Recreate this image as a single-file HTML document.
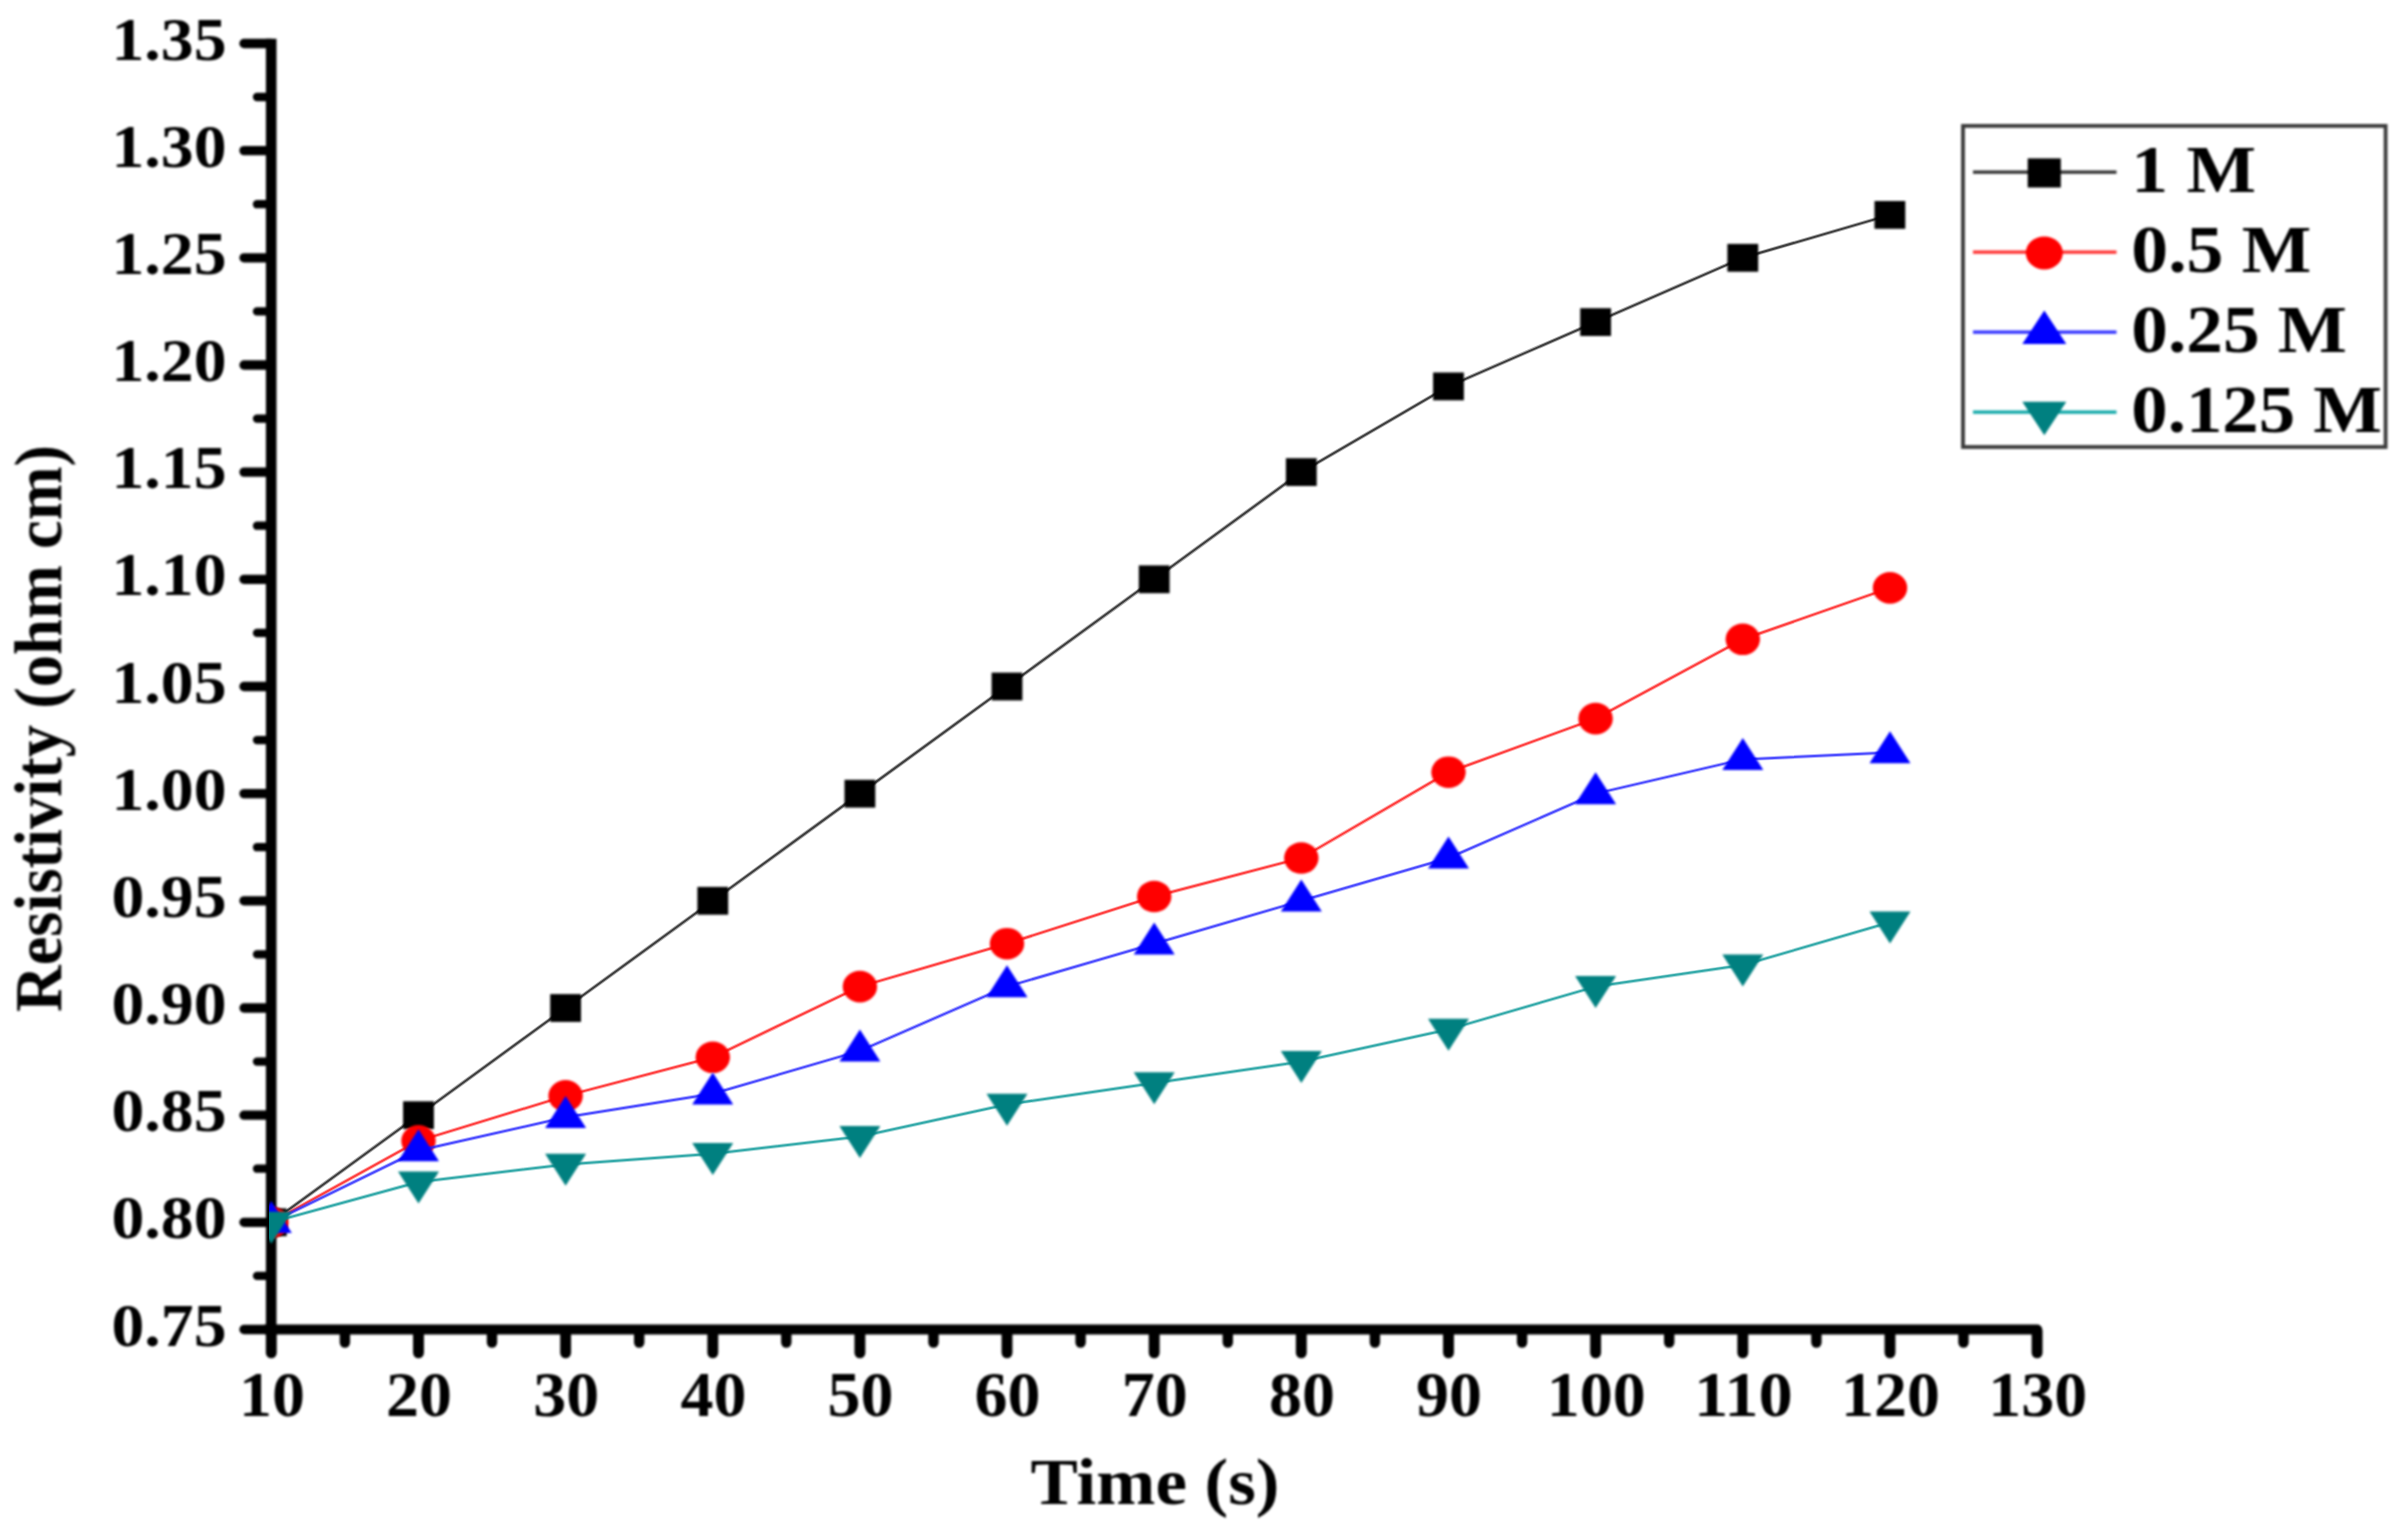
<!DOCTYPE html>
<html lang="en"><head><meta charset="utf-8"><title>Resistivity vs Time</title>
<style>
html,body{margin:0;padding:0;background:#fff;}
body{width:2400px;height:1528px;overflow:hidden;}
svg{display:block;}
.b{filter:blur(0.8px);}
text{font-family:"Liberation Serif",serif;font-weight:bold;fill:#000;}
</style></head><body>
<svg width="2400" height="1528" viewBox="0 0 2400 1528">
<rect width="2400" height="1528" fill="#fff"/>
<defs><clipPath id="plot"><rect x="269.5" y="30" width="1780" height="1300"/></clipPath></defs>

<g class="b">
<g stroke="#000" stroke-width="10" stroke-linecap="round" fill="none">
<line x1="244" y1="1329.5" x2="271" y2="1329.5" stroke-width="9.3"/>
<line x1="244" y1="1222.3" x2="271" y2="1222.3" stroke-width="9.3"/>
<line x1="244" y1="1115.2" x2="271" y2="1115.2" stroke-width="9.3"/>
<line x1="244" y1="1008.0" x2="271" y2="1008.0" stroke-width="9.3"/>
<line x1="244" y1="900.8" x2="271" y2="900.8" stroke-width="9.3"/>
<line x1="244" y1="793.6" x2="271" y2="793.6" stroke-width="9.3"/>
<line x1="244" y1="686.5" x2="271" y2="686.5" stroke-width="9.3"/>
<line x1="244" y1="579.3" x2="271" y2="579.3" stroke-width="9.3"/>
<line x1="244" y1="472.1" x2="271" y2="472.1" stroke-width="9.3"/>
<line x1="244" y1="365.0" x2="271" y2="365.0" stroke-width="9.3"/>
<line x1="244" y1="257.8" x2="271" y2="257.8" stroke-width="9.3"/>
<line x1="244" y1="150.6" x2="271" y2="150.6" stroke-width="9.3"/>
<line x1="244" y1="43.5" x2="271" y2="43.5" stroke-width="9.3"/>
<line x1="257" y1="1275.9" x2="271" y2="1275.9" stroke-width="8.3"/>
<line x1="257" y1="1168.7" x2="271" y2="1168.7" stroke-width="8.3"/>
<line x1="257" y1="1061.6" x2="271" y2="1061.6" stroke-width="8.3"/>
<line x1="257" y1="954.4" x2="271" y2="954.4" stroke-width="8.3"/>
<line x1="257" y1="847.2" x2="271" y2="847.2" stroke-width="8.3"/>
<line x1="257" y1="740.1" x2="271" y2="740.1" stroke-width="8.3"/>
<line x1="257" y1="632.9" x2="271" y2="632.9" stroke-width="8.3"/>
<line x1="257" y1="525.7" x2="271" y2="525.7" stroke-width="8.3"/>
<line x1="257" y1="418.6" x2="271" y2="418.6" stroke-width="8.3"/>
<line x1="257" y1="311.4" x2="271" y2="311.4" stroke-width="8.3"/>
<line x1="257" y1="204.2" x2="271" y2="204.2" stroke-width="8.3"/>
<line x1="257" y1="97.0" x2="271" y2="97.0" stroke-width="8.3"/>
<line x1="271.3" y1="1331" x2="271.3" y2="1352.8" stroke-width="10.9"/>
<line x1="418.5" y1="1331" x2="418.5" y2="1352.8" stroke-width="10.9"/>
<line x1="565.6" y1="1331" x2="565.6" y2="1352.8" stroke-width="10.9"/>
<line x1="712.8" y1="1331" x2="712.8" y2="1352.8" stroke-width="10.9"/>
<line x1="859.9" y1="1331" x2="859.9" y2="1352.8" stroke-width="10.9"/>
<line x1="1007.0" y1="1331" x2="1007.0" y2="1352.8" stroke-width="10.9"/>
<line x1="1154.2" y1="1331" x2="1154.2" y2="1352.8" stroke-width="10.9"/>
<line x1="1301.3" y1="1331" x2="1301.3" y2="1352.8" stroke-width="10.9"/>
<line x1="1448.5" y1="1331" x2="1448.5" y2="1352.8" stroke-width="10.9"/>
<line x1="1595.6" y1="1331" x2="1595.6" y2="1352.8" stroke-width="10.9"/>
<line x1="1742.8" y1="1331" x2="1742.8" y2="1352.8" stroke-width="10.9"/>
<line x1="1890.0" y1="1331" x2="1890.0" y2="1352.8" stroke-width="10.9"/>
<line x1="2037.1" y1="1331" x2="2037.1" y2="1352.8" stroke-width="10.9"/>
<line x1="344.9" y1="1331" x2="344.9" y2="1342.6" stroke-width="10.4"/>
<line x1="492.0" y1="1331" x2="492.0" y2="1342.6" stroke-width="10.4"/>
<line x1="639.2" y1="1331" x2="639.2" y2="1342.6" stroke-width="10.4"/>
<line x1="786.3" y1="1331" x2="786.3" y2="1342.6" stroke-width="10.4"/>
<line x1="933.5" y1="1331" x2="933.5" y2="1342.6" stroke-width="10.4"/>
<line x1="1080.6" y1="1331" x2="1080.6" y2="1342.6" stroke-width="10.4"/>
<line x1="1227.8" y1="1331" x2="1227.8" y2="1342.6" stroke-width="10.4"/>
<line x1="1374.9" y1="1331" x2="1374.9" y2="1342.6" stroke-width="10.4"/>
<line x1="1522.1" y1="1331" x2="1522.1" y2="1342.6" stroke-width="10.4"/>
<line x1="1669.2" y1="1331" x2="1669.2" y2="1342.6" stroke-width="10.4"/>
<line x1="1816.4" y1="1331" x2="1816.4" y2="1342.6" stroke-width="10.4"/>
<line x1="1963.5" y1="1331" x2="1963.5" y2="1342.6" stroke-width="10.4"/>
</g>
<line x1="271.2" y1="38.7" x2="271.2" y2="1334" stroke="#000" stroke-width="10.6"/>
<line x1="266" y1="1329.5" x2="2037.1" y2="1329.5" stroke="#000" stroke-width="10" stroke-linecap="round"/>
<text x="111.5" y="1345.5" font-size="60.5" textLength="115" lengthAdjust="spacingAndGlyphs">0.75</text>
<text x="111.5" y="1238.3" font-size="60.5" textLength="115" lengthAdjust="spacingAndGlyphs">0.80</text>
<text x="111.5" y="1131.2" font-size="60.5" textLength="115" lengthAdjust="spacingAndGlyphs">0.85</text>
<text x="111.5" y="1024.0" font-size="60.5" textLength="115" lengthAdjust="spacingAndGlyphs">0.90</text>
<text x="111.5" y="916.8" font-size="60.5" textLength="115" lengthAdjust="spacingAndGlyphs">0.95</text>
<text x="111.5" y="809.6" font-size="60.5" textLength="115" lengthAdjust="spacingAndGlyphs">1.00</text>
<text x="111.5" y="702.5" font-size="60.5" textLength="115" lengthAdjust="spacingAndGlyphs">1.05</text>
<text x="111.5" y="595.3" font-size="60.5" textLength="115" lengthAdjust="spacingAndGlyphs">1.10</text>
<text x="111.5" y="488.1" font-size="60.5" textLength="115" lengthAdjust="spacingAndGlyphs">1.15</text>
<text x="111.5" y="381.0" font-size="60.5" textLength="115" lengthAdjust="spacingAndGlyphs">1.20</text>
<text x="111.5" y="273.8" font-size="60.5" textLength="115" lengthAdjust="spacingAndGlyphs">1.25</text>
<text x="111.5" y="166.6" font-size="60.5" textLength="115" lengthAdjust="spacingAndGlyphs">1.30</text>
<text x="111.5" y="59.5" font-size="60.5" textLength="115" lengthAdjust="spacingAndGlyphs">1.35</text>
<text x="238.9" y="1416.3" font-size="62.5" textLength="66" lengthAdjust="spacingAndGlyphs">10</text>
<text x="386.1" y="1416.3" font-size="62.5" textLength="66" lengthAdjust="spacingAndGlyphs">20</text>
<text x="533.2" y="1416.3" font-size="62.5" textLength="66" lengthAdjust="spacingAndGlyphs">30</text>
<text x="680.4" y="1416.3" font-size="62.5" textLength="66" lengthAdjust="spacingAndGlyphs">40</text>
<text x="827.5" y="1416.3" font-size="62.5" textLength="66" lengthAdjust="spacingAndGlyphs">50</text>
<text x="974.6" y="1416.3" font-size="62.5" textLength="66" lengthAdjust="spacingAndGlyphs">60</text>
<text x="1121.8" y="1416.3" font-size="62.5" textLength="66" lengthAdjust="spacingAndGlyphs">70</text>
<text x="1268.9" y="1416.3" font-size="62.5" textLength="66" lengthAdjust="spacingAndGlyphs">80</text>
<text x="1416.1" y="1416.3" font-size="62.5" textLength="66" lengthAdjust="spacingAndGlyphs">90</text>
<text x="1546.7" y="1416.3" font-size="62.5" textLength="99" lengthAdjust="spacingAndGlyphs">100</text>
<text x="1693.9" y="1416.3" font-size="62.5" textLength="99" lengthAdjust="spacingAndGlyphs">110</text>
<text x="1841.0" y="1416.3" font-size="62.5" textLength="99" lengthAdjust="spacingAndGlyphs">120</text>
<text x="1988.2" y="1416.3" font-size="62.5" textLength="99" lengthAdjust="spacingAndGlyphs">130</text>
<text x="1030.5" y="1504" font-size="66.5" textLength="249" lengthAdjust="spacingAndGlyphs">Time (s)</text>
<text transform="translate(61.6,1012) rotate(-90) scale(1,1.04)" x="0" y="0" font-size="66" textLength="567" lengthAdjust="spacingAndGlyphs">Resistivity (ohm cm)</text>
</g>
<g clip-path="url(#plot)">
<polyline points="271.3,1222.3 418.5,1115.2 565.6,1008.0 712.8,900.8 859.9,793.6 1007.0,686.5 1154.2,579.3 1301.3,472.1 1448.5,386.4 1595.6,322.1 1742.8,257.8 1890.0,214.9" fill="none" stroke="#111111" stroke-width="3.9" stroke-opacity="0.33" stroke-linejoin="round"/>
<polyline points="271.3,1222.3 418.5,1115.2 565.6,1008.0 712.8,900.8 859.9,793.6 1007.0,686.5 1154.2,579.3 1301.3,472.1 1448.5,386.4 1595.6,322.1 1742.8,257.8 1890.0,214.9" fill="none" stroke="#111111" stroke-width="2.0" stroke-opacity="0.72" stroke-linejoin="round"/>
<g class="b">
<rect x="255.9" y="1208.4" width="30.8" height="27.8" fill="#000000"/>
<rect x="403.1" y="1101.3" width="30.8" height="27.8" fill="#000000"/>
<rect x="550.2" y="994.1" width="30.8" height="27.8" fill="#000000"/>
<rect x="697.4" y="886.9" width="30.8" height="27.8" fill="#000000"/>
<rect x="844.5" y="779.8" width="30.8" height="27.8" fill="#000000"/>
<rect x="991.6" y="672.6" width="30.8" height="27.8" fill="#000000"/>
<rect x="1138.8" y="565.4" width="30.8" height="27.8" fill="#000000"/>
<rect x="1285.9" y="458.2" width="30.8" height="27.8" fill="#000000"/>
<rect x="1433.1" y="372.5" width="30.8" height="27.8" fill="#000000"/>
<rect x="1580.2" y="308.2" width="30.8" height="27.8" fill="#000000"/>
<rect x="1727.4" y="243.9" width="30.8" height="27.8" fill="#000000"/>
<rect x="1874.5" y="201.0" width="30.8" height="27.8" fill="#000000"/>
</g>
<polyline points="271.3,1222.3 418.5,1140.9 565.6,1095.9 712.8,1057.3 859.9,986.6 1007.0,943.7 1154.2,896.5 1301.3,858.0 1448.5,772.2 1595.6,718.6 1742.8,639.3 1890.0,587.9" fill="none" stroke="#ff1010" stroke-width="3.9" stroke-opacity="0.33" stroke-linejoin="round"/>
<polyline points="271.3,1222.3 418.5,1140.9 565.6,1095.9 712.8,1057.3 859.9,986.6 1007.0,943.7 1154.2,896.5 1301.3,858.0 1448.5,772.2 1595.6,718.6 1742.8,639.3 1890.0,587.9" fill="none" stroke="#ff1010" stroke-width="2.0" stroke-opacity="0.72" stroke-linejoin="round"/>
<g class="b">
<ellipse cx="271.3" cy="1222.3" rx="17.2" ry="15.8" fill="#ff0000"/>
<ellipse cx="418.5" cy="1140.9" rx="17.2" ry="15.8" fill="#ff0000"/>
<ellipse cx="565.6" cy="1095.9" rx="17.2" ry="15.8" fill="#ff0000"/>
<ellipse cx="712.8" cy="1057.3" rx="17.2" ry="15.8" fill="#ff0000"/>
<ellipse cx="859.9" cy="986.6" rx="17.2" ry="15.8" fill="#ff0000"/>
<ellipse cx="1007.0" cy="943.7" rx="17.2" ry="15.8" fill="#ff0000"/>
<ellipse cx="1154.2" cy="896.5" rx="17.2" ry="15.8" fill="#ff0000"/>
<ellipse cx="1301.3" cy="858.0" rx="17.2" ry="15.8" fill="#ff0000"/>
<ellipse cx="1448.5" cy="772.2" rx="17.2" ry="15.8" fill="#ff0000"/>
<ellipse cx="1595.6" cy="718.6" rx="17.2" ry="15.8" fill="#ff0000"/>
<ellipse cx="1742.8" cy="639.3" rx="17.2" ry="15.8" fill="#ff0000"/>
<ellipse cx="1890.0" cy="587.9" rx="17.2" ry="15.8" fill="#ff0000"/>
</g>
<polyline points="271.3,1222.3 418.5,1150.5 565.6,1117.3 712.8,1093.7 859.9,1050.9 1007.0,986.6 1154.2,943.7 1301.3,900.8 1448.5,858.0 1595.6,793.6 1742.8,759.4 1890.0,752.5" fill="none" stroke="#2020ff" stroke-width="3.9" stroke-opacity="0.33" stroke-linejoin="round"/>
<polyline points="271.3,1222.3 418.5,1150.5 565.6,1117.3 712.8,1093.7 859.9,1050.9 1007.0,986.6 1154.2,943.7 1301.3,900.8 1448.5,858.0 1595.6,793.6 1742.8,759.4 1890.0,752.5" fill="none" stroke="#2020ff" stroke-width="2.0" stroke-opacity="0.72" stroke-linejoin="round"/>
<g class="b">
<polygon points="250.8,1233.0 291.8,1233.0 271.3,1201.0" fill="#0000ff"/>
<polygon points="398.0,1161.2 439.0,1161.2 418.5,1129.2" fill="#0000ff"/>
<polygon points="545.1,1128.0 586.1,1128.0 565.6,1096.0" fill="#0000ff"/>
<polygon points="692.2,1104.4 733.2,1104.4 712.8,1072.4" fill="#0000ff"/>
<polygon points="839.4,1061.5 880.4,1061.5 859.9,1029.5" fill="#0000ff"/>
<polygon points="986.5,997.2 1027.5,997.2 1007.0,965.2" fill="#0000ff"/>
<polygon points="1133.7,954.4 1174.7,954.4 1154.2,922.4" fill="#0000ff"/>
<polygon points="1280.8,911.5 1321.8,911.5 1301.3,879.5" fill="#0000ff"/>
<polygon points="1428.0,868.6 1469.0,868.6 1448.5,836.6" fill="#0000ff"/>
<polygon points="1575.1,804.3 1616.1,804.3 1595.6,772.3" fill="#0000ff"/>
<polygon points="1722.3,770.0 1763.3,770.0 1742.8,738.0" fill="#0000ff"/>
<polygon points="1869.5,763.2 1910.5,763.2 1890.0,731.2" fill="#0000ff"/>
</g>
<polyline points="271.3,1222.3 418.5,1182.0 565.6,1164.5 712.8,1153.7 859.9,1136.6 1007.0,1104.4 1154.2,1083.0 1301.3,1061.6 1448.5,1029.4 1595.6,986.6 1742.8,965.1 1890.0,922.3" fill="none" stroke="#009494" stroke-width="3.9" stroke-opacity="0.33" stroke-linejoin="round"/>
<polyline points="271.3,1222.3 418.5,1182.0 565.6,1164.5 712.8,1153.7 859.9,1136.6 1007.0,1104.4 1154.2,1083.0 1301.3,1061.6 1448.5,1029.4 1595.6,986.6 1742.8,965.1 1890.0,922.3" fill="none" stroke="#009494" stroke-width="2.0" stroke-opacity="0.72" stroke-linejoin="round"/>
<g class="b">
<polygon points="250.8,1211.7 291.8,1211.7 271.3,1243.7" fill="#008080"/>
<polygon points="398.0,1171.4 439.0,1171.4 418.5,1203.4" fill="#008080"/>
<polygon points="545.1,1153.8 586.1,1153.8 565.6,1185.8" fill="#008080"/>
<polygon points="692.2,1143.1 733.2,1143.1 712.8,1175.1" fill="#008080"/>
<polygon points="839.4,1125.9 880.4,1125.9 859.9,1157.9" fill="#008080"/>
<polygon points="986.5,1093.8 1027.5,1093.8 1007.0,1125.8" fill="#008080"/>
<polygon points="1133.7,1072.3 1174.7,1072.3 1154.2,1104.3" fill="#008080"/>
<polygon points="1280.8,1050.9 1321.8,1050.9 1301.3,1082.9" fill="#008080"/>
<polygon points="1428.0,1018.8 1469.0,1018.8 1448.5,1050.8" fill="#008080"/>
<polygon points="1575.1,975.9 1616.1,975.9 1595.6,1007.9" fill="#008080"/>
<polygon points="1722.3,954.5 1763.3,954.5 1742.8,986.5" fill="#008080"/>
<polygon points="1869.5,911.6 1910.5,911.6 1890.0,943.6" fill="#008080"/>
</g>
</g>
<g class="b">
<rect x="1963" y="125.9" width="422.6" height="321.1" fill="#fff" stroke="#3a3a3a" stroke-width="3.8"/>
<line x1="1973" y1="172.2" x2="2116.5" y2="172.2" stroke="#000000" stroke-width="3.3" stroke-opacity="0.82"/>
<rect x="2027.7" y="158.4" width="33.1" height="29.1" fill="#000000"/>
<text x="2131.3" y="192.0" font-size="68.5" textLength="124.9" lengthAdjust="spacingAndGlyphs">1 M</text>
<line x1="1973" y1="252.2" x2="2116.5" y2="252.2" stroke="#ff0000" stroke-width="3.3" stroke-opacity="0.82"/>
<ellipse cx="2044.3" cy="252.9" rx="18.5" ry="16.5" fill="#ff0000"/>
<text x="2131.3" y="272.0" font-size="68.5" textLength="180.1" lengthAdjust="spacingAndGlyphs">0.5 M</text>
<line x1="1973" y1="332.2" x2="2116.5" y2="332.2" stroke="#0000ff" stroke-width="3.3" stroke-opacity="0.82"/>
<polygon points="2022.3,344.0 2066.3,344.0 2044.3,310.6" fill="#0000ff"/>
<text x="2131.3" y="352.0" font-size="68.5" textLength="215.7" lengthAdjust="spacingAndGlyphs">0.25 M</text>
<line x1="1973" y1="412.2" x2="2116.5" y2="412.2" stroke="#00a2a2" stroke-width="3.3" stroke-opacity="0.95"/>
<polygon points="2022.3,401.8 2066.3,401.8 2044.3,435.2" fill="#008080"/>
<text x="2131.3" y="432.0" font-size="68.5" textLength="250.7" lengthAdjust="spacingAndGlyphs">0.125 M</text>
</g>
</svg></body></html>
